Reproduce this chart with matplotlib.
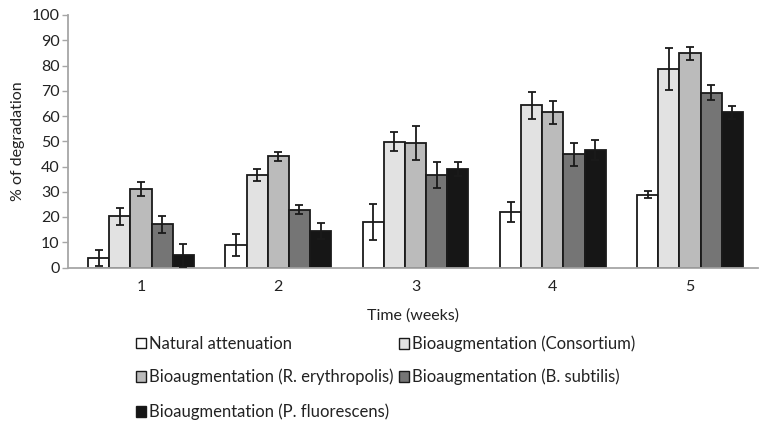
import numpy as np
import matplotlib
matplotlib.use("Agg")
import matplotlib.pyplot as plt
from matplotlib.patches import Patch

plt.rcParams['font.family'] = ['Lato', 'DejaVu Sans']

weeks = ["1", "2", "3", "4", "5"]
series = ["Natural attenuation",
          "Bioaugmentation (Consortium)",
          "Bioaugmentation (R. erythropolis)",
          "Bioaugmentation (B. subtilis)",
          "Bioaugmentation (P. fluorescens)"]

natural = [3.6, 8.9, 18.1, 22.1, 28.9]
consortium = [20.3, 36.6, 49.8, 64.3, 78.6]
erythropolis = [31.2, 44.0, 49.2, 61.4, 84.8]
subtilis = [17.1, 22.9, 36.6, 44.8, 69.2]
fluorescens = [4.8, 14.4, 39.0, 46.5, 61.4]

natural_err = [3.2, 4.2, 7.2, 4.0, 1.2]
consortium_err = [3.4, 2.4, 3.7, 5.3, 8.3]
erythropolis_err = [2.7, 1.8, 6.7, 4.4, 2.5]
subtilis_err = [3.4, 1.8, 5.3, 4.6, 3.0]
fluorescens_err = [4.7, 3.3, 2.7, 4.0, 2.7]

values = [natural, consortium, erythropolis, subtilis, fluorescens]
errors = [natural_err, consortium_err, erythropolis_err, subtilis_err, fluorescens_err]
colors = ["#ffffff", "#e2e2e2", "#bbbbbb", "#757575", "#161616"]

W, H = 760, 425
fig = plt.figure(figsize=(W / 100, H / 100), dpi=100)
ax = fig.add_axes([68 / W, 1 - 267.5 / H, (758 - 68) / W, (267.5 - 15) / H])

x = np.arange(1, len(weeks) + 1)
bw = 0.154
for i, (vals, errs, col) in enumerate(zip(values, errors, colors)):
    pos = x + (i - 2) * bw
    ax.bar(pos, vals, width=bw, color=col, edgecolor="#1a1a1a", linewidth=1.3, zorder=2)
    ax.errorbar(pos, vals, yerr=errs, fmt="none", ecolor="#1a1a1a",
                elinewidth=1.3, capsize=3, capthick=1.3, zorder=3)

ax.set_xlim(0.468, 5.495)
ax.set_ylim(0, 100)
ax.set_yticks(range(0, 101, 10))
ax.set_xticks(x)
ax.set_xticklabels(weeks)
for side in ("top", "right"):
    ax.spines[side].set_visible(False)
for side in ("left", "bottom"):
    ax.spines[side].set_color("#a6a6a6")
    ax.spines[side].set_linewidth(1.3)
ax.tick_params(axis="y", length=4, width=1.0, color="#a6a6a6", labelsize=11.5,
               labelcolor="#222222", pad=2)
ax.tick_params(axis="x", length=0, labelsize=11.5, labelcolor="#222222", pad=9)

ax.set_ylabel("% of degradation", fontsize=11.5, color="#222222")
ax.yaxis.set_label_coords(-(68 - 25) / (758 - 68), 0.5)
fig.text(413 / W, 1 - 316 / H, "Time (weeks)", ha="center", va="center",
         fontsize=11.5, color="#222222")

# legend entries laid out in two columns under the plot
spots = [(136, 344), (399, 344), (136, 377), (399, 377), (136, 412)]
for name, col, (lx, ly) in zip(series, colors, spots):
    h = Patch(facecolor=col, edgecolor="#1a1a1a", linewidth=1.0)
    fig.legend(handles=[h], labels=[name], loc="center left",
               bbox_to_anchor=(lx / W, 1 - ly / H), frameon=False,
               handlelength=0.6, handleheight=0.6, handletextpad=0.2,
               borderpad=0, borderaxespad=0, fontsize=12,
               labelcolor="#222222")

fig.savefig("out.png", dpi=100)
